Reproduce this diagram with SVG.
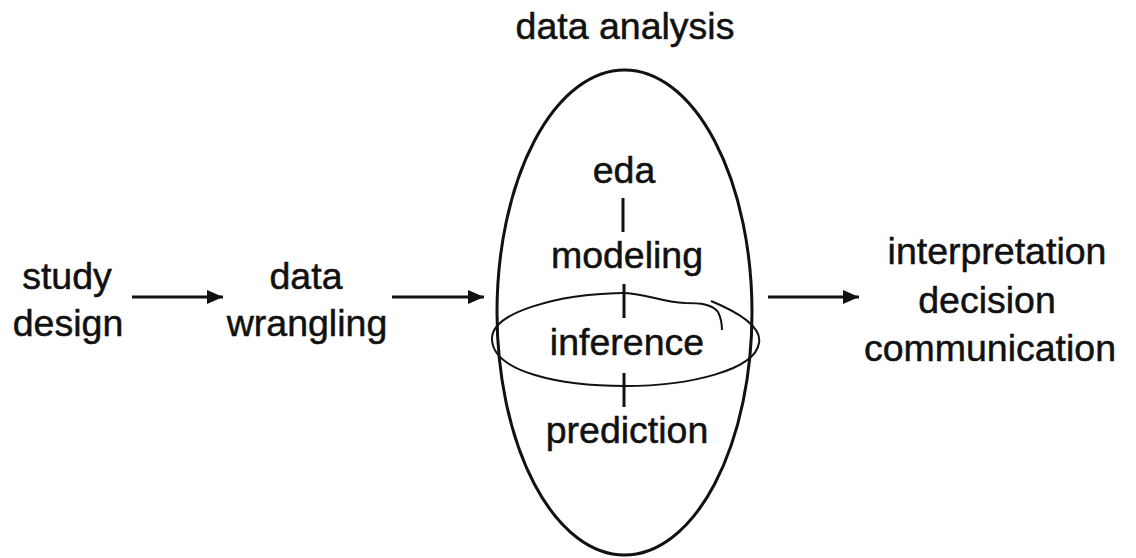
<svg xmlns="http://www.w3.org/2000/svg" width="1136" height="558" viewBox="0 0 1136 558">
<style>
  text { font-family: "Liberation Sans", Arial, sans-serif; font-size: 37.5px; fill: #111; stroke: #111; stroke-width: 0.5; text-anchor: middle; }
  .ln { stroke: #111; stroke-width: 3; fill: none; }
  .thin { stroke: #111; stroke-width: 2; fill: none; }
</style>
<defs>
  <marker id="ah" markerUnits="userSpaceOnUse" markerWidth="18" markerHeight="16" refX="16" refY="8" orient="auto">
    <path d="M0,1 L16,8 L0,15 Z" fill="#111"/>
  </marker>
</defs>
<rect width="1136" height="558" fill="#fff"/>
<g id="study-design">
  <text x="67" y="289">study</text>
  <text x="68" y="336">design</text>
</g>
<g id="data-wrangling">
  <text x="306" y="289">data</text>
  <text x="307" y="336">wrangling</text>
</g>
<g id="data-analysis">
  <text x="625" y="39">data analysis</text>
  <ellipse class="ln" cx="624.5" cy="312.5" rx="127.5" ry="242.5"/>
  <text x="624" y="183">eda</text>
  <text x="627" y="268">modeling</text>
  <text x="627" y="355">inference</text>
  <text x="627" y="443">prediction</text>
  <path class="thin" d="M711 301 C740 313, 762 327, 759 343 C755 370, 690 386, 625 386 C560 386, 494 372, 492 340 C490 312, 560 294, 622 293 C645 293, 660 302, 685 303 C700 303, 712 304, 718 312 C721 318, 722 324, 722 330"/>
</g>
<g id="interpretation">
  <text x="997" y="264">interpretation</text>
  <text x="987" y="313">decision</text>
  <text x="990" y="361">communication</text>
</g>
<g id="connectors">
  <line class="ln" x1="132" y1="297" x2="223" y2="297" marker-end="url(#ah)"/>
  <line class="ln" x1="392" y1="297" x2="484" y2="297" marker-end="url(#ah)"/>
  <line class="ln" x1="768" y1="297" x2="859" y2="297" marker-end="url(#ah)"/>
  <line class="ln" x1="623" y1="198" x2="623" y2="232"/>
  <line class="ln" x1="624" y1="284" x2="624" y2="318"/>
  <line class="ln" x1="624" y1="373" x2="624" y2="407"/>
</g>
</svg>
